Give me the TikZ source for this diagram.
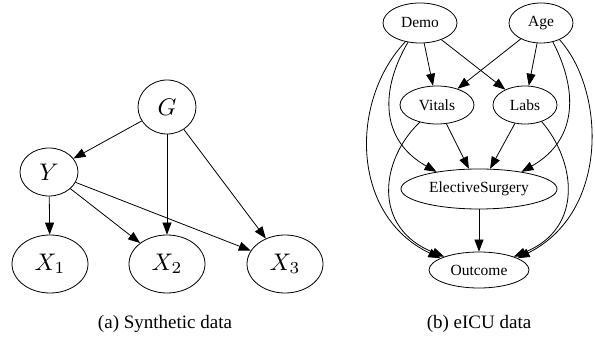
\documentclass[tikz,border=0pt]{standalone}
\usepackage{graphicx}
\usepackage{fontspec}
\setmainfont{Liberation Serif}
\newfontfamily\timesfam{Liberation Serif}
\usetikzlibrary{shapes.geometric,arrows.meta}
\newcommand{\nodemath}[1]{\scalebox{2.4}{$#1$}}
\begin{document}
\begin{tikzpicture}[x=1pt,y=-1pt,line width=0.8pt,
  el/.style={draw,ellipse,inner sep=0pt},
  arr/.style={-{Triangle[length=12pt,width=9pt]}},
  gtext/.style={font=\timesfam\fontsize{15.5}{18}\selectfont},
  captext/.style={font=\timesfam\fontsize{19}{22}\selectfont}]
\useasboundingbox (0,0) rectangle (595,339);
% (a) synthetic
\node[el,minimum width=58pt,minimum height=54pt] (G) at (167,107) {\nodemath{G}};
\node[el,minimum width=58pt,minimum height=48pt] (Y) at (49,172) {\nodemath{Y}};
\node[el,minimum width=76pt,minimum height=58pt] (X1) at (50,264) {\nodemath{X_1}};
\node[el,minimum width=76pt,minimum height=58pt] (X2) at (167,264) {\nodemath{X_2}};
\node[el,minimum width=76pt,minimum height=58pt] (X3) at (285,264) {\nodemath{X_3}};
\draw[arr] (G) -- (Y);
\draw[arr] (G) -- (X2);
\draw[arr] (G) -- (X3);
\draw[arr] (Y) -- (X1);
\draw[arr] (Y) -- (X2);
\draw[arr] (Y) -- (X3);
\node[captext] (capa) at (165,324) {(a) Synthetic data};
% (b) eICU
\node[el,gtext,minimum width=74pt,minimum height=40pt] (Demo) at (420,23) {Demo};
\node[el,gtext,minimum width=64pt,minimum height=40pt] (Age) at (541,23) {Age};
\node[el,gtext,minimum width=74pt,minimum height=38pt] (Vitals) at (437,105) {Vitals};
\node[el,gtext,minimum width=64pt,minimum height=38pt] (Labs) at (525,105) {Labs};
\node[el,gtext,minimum width=156pt,minimum height=40pt] (ES) at (479,189) {ElectiveSurgery};
\node[el,gtext,minimum width=100pt,minimum height=36pt] (Out) at (479,270) {Outcome};
\draw[arr] (Demo) -- (Vitals);
\draw[arr] (Demo) -- (Labs);
\draw[arr] (Age) -- (Vitals);
\draw[arr] (Age) -- (Labs);
\draw[arr] (Vitals) -- (ES);
\draw[arr] (Labs) -- (ES);
\draw[arr] (ES) -- (Out);
\draw[arr] (Demo.238) .. controls (380,90) and (380,140) .. (ES.158);
\draw[arr] (Age.302) .. controls (578,90) and (578,140) .. (ES.22);
\draw[arr] (Demo.232) .. controls (350,100) and (350,215) .. (Out.163);
\draw[arr] (Vitals.225) .. controls (380,160) and (372,228) .. (Out.159);
\draw[arr] (Age.318) .. controls (605,90) and (610,212) .. (Out.17);
\draw[arr] (Labs.315) .. controls (575,160) and (585,228) .. (Out.21);
\node[captext] (capb) at (479,324) {(b) eICU data};
\end{tikzpicture}
\end{document}
